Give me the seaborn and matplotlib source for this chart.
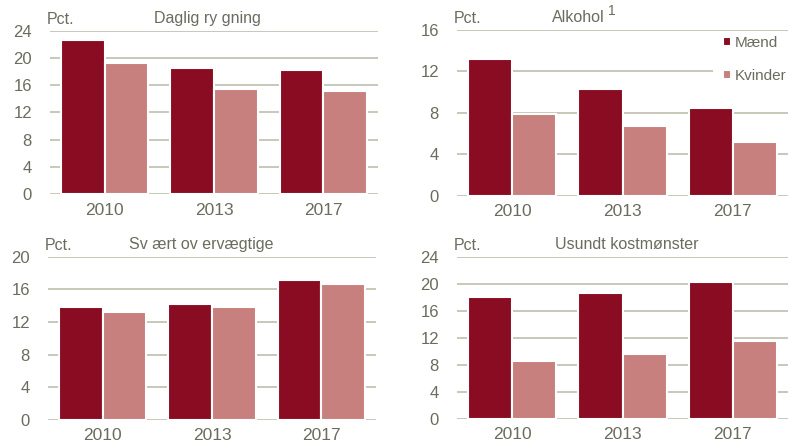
import numpy as np
import pandas as pd
import matplotlib
matplotlib.use("Agg")
import matplotlib.pyplot as plt
from matplotlib.patches import Rectangle
import seaborn as sns

# data (pct.)
years = ["2010", "2013", "2017"]
sexes = ["Mænd", "Kvinder"]
rygning_m = [22.6, 18.5, 18.3]
rygning_k = [19.2, 15.4, 15.2]
alkohol_m = [13.2, 10.3, 8.5]
alkohol_k = [7.9, 6.7, 5.2]
overvaegt_m = [13.9, 14.2, 17.1]
overvaegt_k = [13.2, 13.9, 16.6]
kost_m = [18.0, 18.7, 20.3]
kost_k = [8.6, 9.6, 11.6]

titles = ["Daglig ry gning", "Alkohol", "Sv ært ov ervægtige", "Usundt kostmønster"]
ymax = [24, 16, 20, 24]
ystep = [4, 4, 4, 4]

sns.set_theme(style="white")
plt.rcParams["font.family"] = ["Liberation Sans", "DejaVu Sans"]

dark = "#8a0c22"
light = "#c8807e"
txt = "#6b6b5e"
grid = "#bdbdae"

W, H = 789, 442
fig = plt.figure(figsize=(W / 100, H / 100), dpi=100)

# axes boxes in pixels: left, right, top, bottom
boxes = [(50, 378, 30.7, 194.3), (457, 788, 29.7, 196),
         (48, 376, 256.7, 420), (457, 788, 256.7, 419)]
series = [(rygning_m, rygning_k), (alkohol_m, alkohol_k),
          (overvaegt_m, overvaegt_k), (kost_m, kost_k)]
title_x = [207, 578, 201, 627]

for i in range(4):
    l, r, t, b = boxes[i]
    ax = fig.add_axes([l / W, (H - b) / H, (r - l) / W, (b - t) / H])
    m, k = series[i]
    df = pd.DataFrame({"År": years * 2,
                       "Køn": [sexes[0]] * 3 + [sexes[1]] * 3,
                       "Pct": m + k})
    sns.barplot(data=df, x="År", y="Pct", hue="Køn", palette=[dark, light],
                width=0.8, edgecolor="white", linewidth=1.5, saturation=1,
                ax=ax, zorder=3, legend=(i == 1))
    ax.set_ylim(0, ymax[i])
    ax.set_yticks(np.arange(0, ymax[i] + 1, ystep[i]))
    ax.set_xlim(-0.5, 2.5)
    ax.yaxis.grid(True, color=grid, linewidth=1.2, zorder=0)
    ax.set_axisbelow(True)
    for s in ax.spines.values():
        s.set_visible(False)
    ax.set_xlabel("")
    ax.set_ylabel("")
    ax.tick_params(axis="y", length=0, pad=13, labelsize=12, labelcolor=txt)
    ax.tick_params(axis="x", length=0, pad=6, labelsize=12.5, labelcolor=txt)
    ax.set_facecolor("none")

    # "Pct." and panel title
    fig.text((l - 3) / W, 1 - (t - 11) / H, "Pct.", fontsize=11.5, color=txt,
             ha="left", va="center")
    fig.text(title_x[i] / W, 1 - (t - 12) / H, titles[i], fontsize=11.5,
             color=txt, ha="center", va="center")
    if i == 1:
        fig.text(612 / W, 1 - 11 / H, "1", fontsize=10, color=txt,
                 ha="center", va="center")
        # white area behind the legend hides the upper gridlines
        ax.add_patch(Rectangle(((713 - l) / (r - l), (b - 100) / (b - t)),
                               1.0, 0.2, transform=ax.transAxes,
                               facecolor="white", edgecolor="none",
                               zorder=1, clip_on=False))
        h, lab = ax.get_legend_handles_labels()
        leg = ax.legend(h, lab, loc="upper left",
                        bbox_to_anchor=((723 - l) / (r - l), 1 - (36 - t) / (b - t)),
                        frameon=False, fontsize=11, labelcolor=txt,
                        handlelength=0.5, handleheight=0.5,
                        handletextpad=0.25, labelspacing=1.25,
                        borderpad=0, borderaxespad=0)
        leg.set_zorder(5)

fig.savefig("out.png", dpi=100, facecolor="white")
